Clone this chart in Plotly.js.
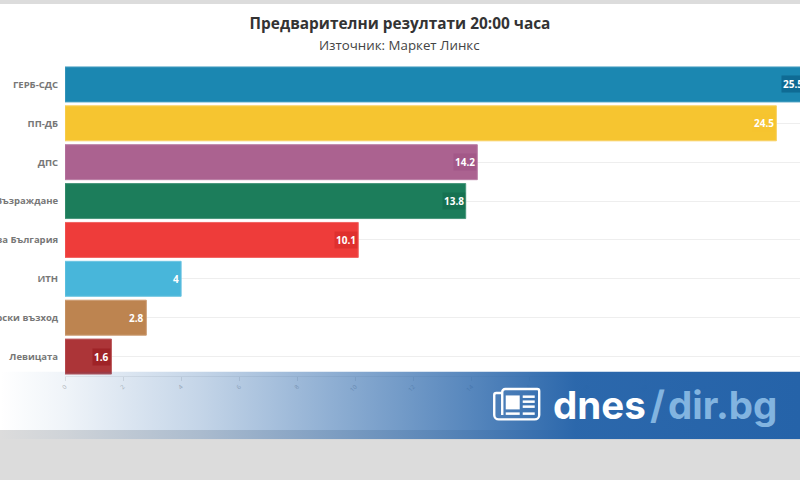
<!DOCTYPE html>
<html><head><meta charset="utf-8">
<script src="https://cdn.plot.ly/plotly-3.0.1.min.js"></script>
<style>
html,body{margin:0;padding:0;width:800px;height:480px;overflow:hidden;background:#dcdcdc}
#bg{position:absolute;left:0;top:4px;width:800px;height:426px;background:#fff}
#chart{position:absolute;left:0;top:0;width:900px;height:480px}
</style></head><body>
<div id="bg"></div><div id="chart"></div>
<script>
var parties=["ГЕРБ-СДС","ПП-ДБ","ДПС","Възраждане","БСП за България","ИТН","Български възход","Левицата"];
var shares=[25.5,24.5,14.2,13.8,10.1,4,2.8,1.6];
var barColors=["#1b87b1","#f6c530","#ab6290","#1c7d5b","#ee3c3a","#48b6da","#bd8450","#ac3538"];
var edgeColors=["#4aa0c2","#f8d163","#bb7ea5","#48977b","#f16361","#6dc5e2","#cb9c72","#bd5d60"];
var labelBg=["rgba(10,95,135,.7)","rgba(246,197,48,.3)","rgba(140,60,110,.25)","rgba(10,85,60,.3)","rgba(200,30,30,.4)","rgba(72,182,218,.3)","rgba(189,132,80,.3)","rgba(150,20,25,.55)"];
var axisTicks=[0,2,4,6,8,10,12,14,16,18,20,22,24,26];
var titleText="Предварителни резултати 20:00 часа";
var subtitleText="Източник: Маркет Линкс";
var brandWords=["dnes","/","dir.bg"];
var brandX=[552,649,667];
var brandColors=["#ffffff","#82b4e0","#82b4e0"];

var L=65,T=64.5,PW=813.5,PH=312;
function px(x){return (x-L)/PW;}
function py(y){return (T+PH-y)/PH;}

var band='<svg xmlns="http://www.w3.org/2000/svg" width="810" height="68" viewBox="0 0 810 68" preserveAspectRatio="none">'+
'<defs><linearGradient id="g" gradientUnits="userSpaceOnUse" x1="0" x2="800" y1="0" y2="0">'+
'<stop offset="0" stop-color="#2563a9" stop-opacity="0"/>'+
'<stop offset=".08" stop-color="#2563a9" stop-opacity=".07"/>'+
'<stop offset=".25" stop-color="#2563a9" stop-opacity=".27"/>'+
'<stop offset=".5" stop-color="#2563a9" stop-opacity=".64"/>'+
'<stop offset=".72" stop-color="#2563a9" stop-opacity=".97"/>'+
'<stop offset="1" stop-color="#2563a9" stop-opacity="1"/>'+
'</linearGradient></defs>'+
'<rect width="810" height="68" fill="url(#g)"/>'+
'<g fill="none" stroke="#fff" stroke-width="2.4">'+
'<path d="M502 21.5h-5.500a2 2 0 0 0-2 2v20a4.500 4.500 0 0 0 4.500 4.500h36a4.500 4.500 0 0 0 4.500-4.500v-24a2 2 0 0 0-2-2h-32a3 3 0 0 0-3 3v23"/>'+
'</g><g fill="#fff">'+
'<rect x="506" y="24" width="14" height="14"/>'+
'<rect x="523" y="24" width="12" height="2.500"/><rect x="523" y="29" width="12" height="2.500"/><rect x="523" y="34" width="12" height="2.500"/>'+
'<rect x="506" y="41" width="14" height="2.500"/><rect x="523" y="41" width="12" height="2.500"/>'+
'</g></svg>';

var annots=parties.map(function(p,i){
  return {x:shares[i],y:p,xref:'x',yref:'y',text:String(shares[i]),showarrow:false,xanchor:'right',xshift:0,
    font:{family:'"Open Sans"',size:10,color:'#fff',weight:700},bgcolor:labelBg[i],borderpad:1};
});
brandWords.forEach(function(w,i){
  annots.push({xref:'paper',yref:'paper',x:px(brandX[i]),y:py(406),xanchor:'left',yanchor:'middle',showarrow:false,
    text:'<b>'+w+'</b>',borderpad:0,font:{family:'Inter',size:38.5,color:brandColors[i]}});
});
annots.push({xref:'paper',yref:'paper',x:px(400),y:py(44),xanchor:'center',yanchor:'middle',showarrow:false,
    text:subtitleText,font:{family:'"Open Sans"',size:13.3,color:'#444'}});

Plotly.newPlot('chart',[{
  type:'bar',orientation:'h',y:parties,x:shares,
  marker:{color:barColors,line:{color:edgeColors,width:1}},
  hoverinfo:'none'
}],{
  width:900,height:480,
  paper_bgcolor:'rgba(0,0,0,0)',plot_bgcolor:'rgba(0,0,0,0)',
  margin:{l:L,t:T,r:900-L-PW,b:480-T-PH,pad:0},
  showlegend:false,bargap:0.1,
  title:{text:'<b>'+titleText+'</b>',xref:'container',x:400/900,xanchor:'center',yref:'container',y:1-24/480,yanchor:'middle',
    font:{family:'"Open Sans"',size:15.4,color:'#333'}},
  xaxis:{range:[0,28],tickmode:'array',tickvals:axisTicks,ticktext:axisTicks.map(String),tickangle:-45,
    showgrid:false,zeroline:false,showline:true,linecolor:'#eee',ticks:'outside',ticklen:4,tickcolor:'#e6e6e6',
    tickfont:{family:'"Open Sans"',size:6,color:'#bbb'}},
  yaxis:{autorange:false,range:[7.5,-0.5],type:'category',categoryorder:'array',categoryarray:parties,
    showgrid:true,gridcolor:'#eeeeee',zeroline:false,showline:false,ticks:'outside',ticklen:4,tickcolor:'rgba(0,0,0,0)',
    tickfont:{family:'"Open Sans"',size:9.5,color:'#777',weight:700}},
  annotations:annots,
  images:[{source:'data:image/svg+xml;charset=utf-8,'+encodeURIComponent(band),xref:'paper',yref:'paper',
    x:px(0),y:py(372),sizex:810/PW,sizey:68/PH,sizing:'stretch',xanchor:'left',yanchor:'top',layer:'above'}]
},{displayModeBar:false,staticPlot:true});
</script></body></html>
